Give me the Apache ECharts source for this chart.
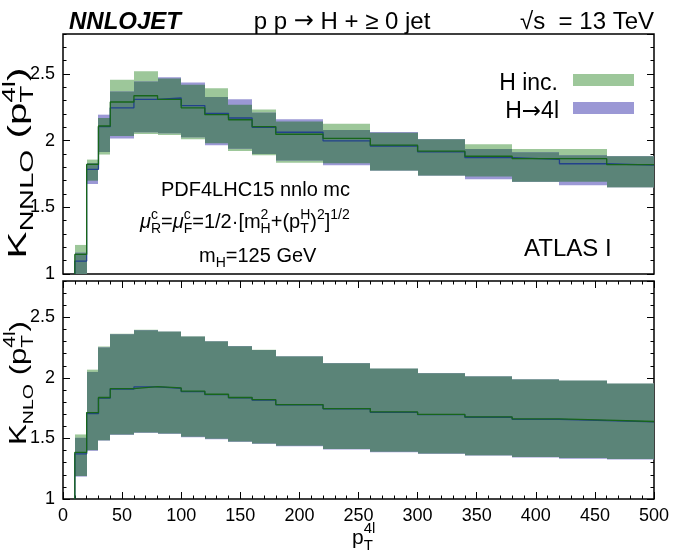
<!DOCTYPE html>
<html>
<head>
<meta charset="utf-8">
<script src="https://cdn.jsdelivr.net/npm/echarts@6/dist/echarts.min.js"></script>
<style>html,body{margin:0;padding:0;background:#fff}#c{width:675px;height:555px}</style>
</head>
<body>
<div id="c"></div>
<script>
// ---- data ----
const binEdges = [10,20,30,40,60,80,100,120,140,160,180,220,260,300,340,380,420,460,500];
const xTicks = [0,50,100,150,200,250,300,350,400,450,500];
const yTicks = [1,1.5,2,2.5];

// NNLO K-factor, H inclusive (green)
const nnloIncCentral = [1.147,1.822,2.110,2.290,2.337,2.310,2.246,2.195,2.157,2.106,2.048,2.017,1.966,1.921,1.883,1.865,1.865,1.820];
const nnloIncLow     = [0.900,1.700,1.896,2.035,2.050,2.043,2.010,1.980,1.923,1.890,1.835,1.830,1.776,1.738,1.731,1.692,1.692,1.650];
const nnloIncHigh    = [1.218,1.858,2.170,2.456,2.520,2.466,2.420,2.393,2.270,2.233,2.144,2.126,2.060,2.010,1.974,1.938,1.938,1.883];
// NNLO K-factor, H->4l (blue)
const nnlo4lCentral  = [1.097,1.785,2.105,2.246,2.309,2.320,2.263,2.205,2.170,2.100,2.063,1.999,1.960,1.916,1.873,1.860,1.827,1.817];
const nnlo4lLow      = [0.900,1.675,1.915,2.017,2.063,2.056,2.025,1.966,1.940,1.900,1.852,1.815,1.776,1.738,1.710,1.692,1.665,1.650];
const nnlo4lHigh     = [1.160,1.832,2.195,2.368,2.444,2.476,2.436,2.327,2.310,2.210,2.160,2.080,2.065,2.010,1.938,1.913,1.890,1.883];
// NLO K-factor, H inclusive (green)
const nloIncCentral  = [1.385,1.714,1.838,1.912,1.928,1.917,1.890,1.865,1.838,1.821,1.780,1.747,1.719,1.698,1.678,1.661,1.651,1.640];
const nloIncLow      = [1.190,1.404,1.486,1.533,1.549,1.541,1.513,1.497,1.475,1.459,1.439,1.412,1.390,1.376,1.362,1.346,1.338,1.330];
const nloIncHigh     = [1.533,2.068,2.260,2.365,2.398,2.384,2.343,2.304,2.263,2.233,2.178,2.123,2.077,2.040,2.013,1.988,1.978,1.953];
// NLO K-factor, H->4l (blue)
const nlo4lCentral   = [1.373,1.706,1.833,1.908,1.925,1.914,1.887,1.862,1.836,1.816,1.778,1.745,1.716,1.696,1.675,1.658,1.647,1.637];
const nlo4lLow       = [1.185,1.398,1.483,1.530,1.546,1.538,1.510,1.494,1.472,1.456,1.436,1.409,1.387,1.373,1.359,1.343,1.333,1.327];
const nlo4lHigh      = [1.505,2.049,2.250,2.360,2.394,2.380,2.340,2.300,2.262,2.230,2.176,2.120,2.075,2.038,2.011,1.986,1.976,1.951];

// ---- styles ----
const FONT = 'Liberation Sans';
const GREEN_BAND = '#9dc79a';
const BLUE_BAND = '#9b98d5';
const OVERLAP = '#5b8478';
const GREEN_LINE = '#17661a';
const BLUE_LINE = '#22408c';

const chart = echarts.init(document.getElementById('c'), null, {renderer:'canvas'});

function bandData(lo, hi) {
  return lo.map((l, i) => [binEdges[i], binEdges[i+1], l, hi[i]]);
}
function overlapData(lo1, hi1, lo2, hi2) {
  return lo1.map((l, i) => [binEdges[i], binEdges[i+1], Math.max(l, lo2[i]), Math.min(hi1[i], hi2[i])]);
}
function stepData(c) {
  const d = [[binEdges[0], 1]];
  c.forEach((v, i) => d.push([binEdges[i], v]));
  d.push([binEdges[binEdges.length-1], c[c.length-1]]);
  return d;
}
function bandRender(color) {
  return function (params, api) {
    const x0 = api.value(0), x1 = api.value(1), lo = api.value(2), hi = api.value(3);
    if (!(hi > lo)) return null;
    const a = api.coord([x0, hi]), b = api.coord([x1, lo]);
    const cs = params.coordSys;
    const xa = Math.round(a[0]), xb = Math.round(b[0]);
    const r = echarts.graphic.clipRectByRect(
      {x: xa, y: a[1], width: xb - xa, height: b[1] - a[1]},
      {x: cs.x, y: cs.y, width: cs.width, height: cs.height});
    if (!r) return null;
    return {type: 'rect', shape: r, style: {fill: color}};
  };
}
function band(g, data, color, z) {
  return {type: 'custom', xAxisIndex: g === 0 ? 0 : 1, yAxisIndex: g * 4, data: data,
    encode: {x: [0, 1], y: [2, 3]}, renderItem: bandRender(color), silent: true, animation: false, clip: true, z: z};
}
function stepLine(g, c, color, z) {
  return {type: 'line', step: 'end', xAxisIndex: g === 0 ? 0 : 1, yAxisIndex: g * 4, data: stepData(c),
    showSymbol: false, symbol: 'none', silent: true, animation: false, clip: true, z: z,
    lineStyle: {color: color, width: 1.3}};
}

function yAxes(g) {
  const base = {gridIndex: g, type: 'value', min: 1, max: 2.8, splitLine: {show: false}, axisLine: {show: false}};
  return [
    Object.assign({}, base, {position: 'left', interval: 0.5,
      axisTick: {inside: true, length: 7, lineStyle: {color: '#000', width: 1}},
      axisLabel: {show: true, fontSize: 18, color: '#000', fontFamily: FONT, margin: 8, showMaxLabel: false,
        formatter: v => (yTicks.indexOf(Math.round(v * 10) / 10) >= 0 ? String(Math.round(v * 10) / 10) : '')}}),
    Object.assign({}, base, {position: 'left', interval: 0.1,
      axisTick: {inside: true, length: 3.5, lineStyle: {color: '#000', width: 1}}, axisLabel: {show: false}}),
    Object.assign({}, base, {position: 'right', interval: 0.5,
      axisTick: {inside: true, length: 7, lineStyle: {color: '#000', width: 1}}, axisLabel: {show: false}}),
    Object.assign({}, base, {position: 'right', interval: 0.1,
      axisTick: {inside: true, length: 3.5, lineStyle: {color: '#000', width: 1}}, axisLabel: {show: false}})
  ];
}

// ---- rich math text helper ----
const mctx = document.createElement('canvas').getContext('2d');
function mathGroup(x, y, rot, anchor, pieces, sx) {
  let cx = 0, stackStart = null, stackW = 0;
  const kids = [];
  pieces.forEach(p => {
    const t = p[0], s = p[1], dy = p[2], o = p[3] || {};
    const style = o.it ? 'italic' : 'normal';
    const weight = o.b ? 'bold' : 'normal';
    mctx.font = style + ' ' + weight + ' ' + s + 'px "' + FONT + '"';
    const w = mctx.measureText(t).width;
    let px;
    if (stackStart !== null) {
      px = stackStart; cx = stackStart + Math.max(stackW, w); stackStart = null;
    } else {
      px = cx;
      if (o.st) { stackStart = cx; stackW = w; } else { cx += w; }
    }
    kids.push({type: 'text', x: px, y: dy - 0.3465 * s,
      style: {text: t, fontSize: s, fontFamily: FONT, fontStyle: style, fontWeight: weight,
        fill: '#000', align: 'left', verticalAlign: 'middle'}});
  });
  const shift = anchor === 'center' ? -cx / 2 : (anchor === 'right' ? -cx : 0);
  kids.forEach(k => { k.x += shift; });
  return {type: 'group', x: x, y: y, rotation: rot, scaleX: sx || 1, scaleY: 1, silent: true, children: kids};
}
function txt(x, y, text, size, align, extra) {
  return {type: 'text', x: x, y: y, silent: true,
    style: Object.assign({text: text, fontSize: size, fontFamily: FONT, fill: '#000', align: align || 'left', verticalAlign: 'middle'}, extra || {})};
}
function richTxt(x, y, text, size, align) {
  return {type: 'text', x: x, y: y, silent: true,
    style: {text: text, fontSize: size, fontFamily: FONT, fill: '#000', align: align, verticalAlign: 'middle',
      rich: {n: {fontSize: size, fontFamily: FONT, fill: '#000'},
             a: {fontSize: size, fontFamily: 'DejaVu Sans', fill: '#000'}}}};
}

const graphics = [
  txt(69, 22, 'NNLOJET', 24, 'left', {fontWeight: 'bold', fontStyle: 'italic'}),
  richTxt(342, 22, '{n|p p }{a|\u2192}{n| H + \u2265 0 jet}', 24, 'center'),
  txt(654, 22, '\u221As  = 13 TeV', 24, 'right'),
  // legend
  txt(558, 84, 'H inc.', 23, 'right'),
  richTxt(559, 112, '{n|H}{a|\u2192}{n|4l}', 23, 'right'),
  {type: 'rect', silent: true, shape: {x: 573, y: 74, width: 61, height: 12}, style: {fill: GREEN_BAND}},
  {type: 'rect', silent: true, shape: {x: 573, y: 102, width: 61, height: 12}, style: {fill: BLUE_BAND}},
  // annotations
  txt(161, 190, 'PDF4LHC15 nnlo mc', 20, 'left'),
  mathGroup(140, 229, 0, 'left', [
    ['\u03BC', 20, 0, {it: true}], ['c', 14, -9, {st: true}], ['R', 14, 5],
    ['=', 20, 0], ['\u03BC', 20, 0, {it: true}], ['c', 14, -9, {st: true}], ['F', 14, 5],
    ['=1/2\u00B7[m', 20, 0], ['2', 14, -9, {st: true}], ['H', 14, 5],
    ['+(p', 20, 0], ['H', 14, -9, {st: true}], ['T', 14, 5],
    [')', 20, 0], ['2', 14, -9], [']', 20, 0], ['1/2', 14, -9]
  ]),
  mathGroup(199, 263, 0, 'left', [['m', 20, 0], ['H', 14, 5], ['=125 GeV', 20, 0]]),
  txt(524, 249, 'ATLAS I', 24, 'left'),
  // axis titles
  mathGroup(28, 163, Math.PI / 2, 'center', [
    ['K', 26, 0], ['NNLO', 19, 6], [' (p', 26, 0], ['4l', 18, -12, {st: true}], ['T', 18, 6], [')', 26, 0]
  ], 1.55),
  mathGroup(28, 383, Math.PI / 2, 'center', [
    ['K', 24, 0], ['NLO', 15, 6], [' (p', 24, 0], ['4l', 16, -12, {st: true}], ['T', 16, 6], [')', 24, 0]
  ], 1.3),
  mathGroup(352, 545, 0, 'left', [['p', 21, 0], ['4l', 15, -11, {st: true}], ['T', 15, 6]])
];

const option = {
  animation: false,
  backgroundColor: '#fff',
  textStyle: {fontFamily: FONT},
  grid: [
    {left: 63, right: 21, top: 34, height: 240, show: true, borderColor: '#000', borderWidth: 1.5, backgroundColor: 'transparent', containLabel: false},
    {left: 63, right: 21, top: 281, height: 218, show: true, borderColor: '#000', borderWidth: 1.5, backgroundColor: 'transparent', containLabel: false}
  ],
  xAxis: [
    {gridIndex: 0, type: 'value', min: 0, max: 500, show: false},
    {gridIndex: 1, type: 'value', min: 0, max: 500, interval: 50, position: 'bottom',
      axisLine: {show: false}, splitLine: {show: false},
      axisTick: {inside: true, length: 7, lineStyle: {color: '#000', width: 1}},
      minorTick: {show: true, splitNumber: 5, length: 3.5, lineStyle: {color: '#000', width: 1}},
      axisLabel: {fontSize: 18, color: '#000', fontFamily: FONT, margin: 8,
        formatter: v => (xTicks.indexOf(v) >= 0 ? String(v) : '')}},
    {gridIndex: 1, type: 'value', min: 0, max: 500, interval: 50, position: 'top',
      axisLine: {show: false}, splitLine: {show: false},
      axisTick: {inside: true, length: 7, lineStyle: {color: '#000', width: 1}},
      minorTick: {show: true, splitNumber: 5, length: 3.5, lineStyle: {color: '#000', width: 1}},
      axisLabel: {show: false}}
  ],
  yAxis: yAxes(0).concat(yAxes(1)),
  series: [
    band(0, bandData(nnloIncLow, nnloIncHigh), GREEN_BAND, 1),
    band(0, bandData(nnlo4lLow, nnlo4lHigh), BLUE_BAND, 1),
    band(0, overlapData(nnloIncLow, nnloIncHigh, nnlo4lLow, nnlo4lHigh), OVERLAP, 1),
    stepLine(0, nnlo4lCentral, BLUE_LINE, 3),
    stepLine(0, nnloIncCentral, GREEN_LINE, 4),
    band(1, bandData(nloIncLow, nloIncHigh), GREEN_BAND, 1),
    band(1, bandData(nlo4lLow, nlo4lHigh), BLUE_BAND, 1),
    band(1, overlapData(nloIncLow, nloIncHigh, nlo4lLow, nlo4lHigh), OVERLAP, 1),
    stepLine(1, nlo4lCentral, BLUE_LINE, 3),
    stepLine(1, nloIncCentral, GREEN_LINE, 4)
  ],
  graphic: graphics
};
chart.setOption(option);
</script>
</body>
</html>
